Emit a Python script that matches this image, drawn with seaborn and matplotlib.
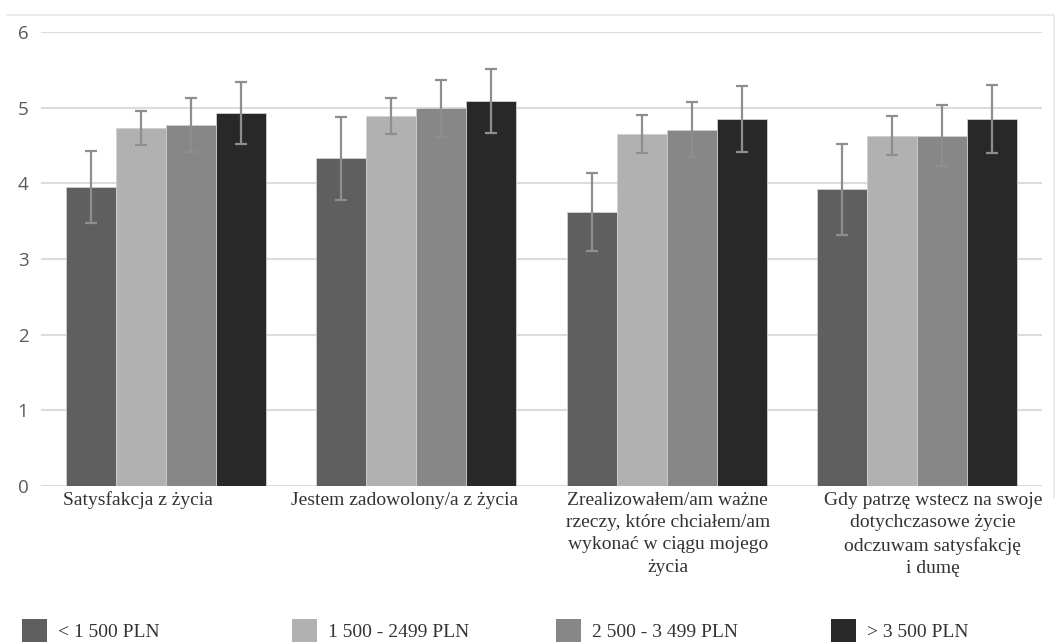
import numpy as np
import pandas as pd
import matplotlib
matplotlib.use("Agg")
import matplotlib.pyplot as plt
from matplotlib.patches import Patch
from matplotlib.lines import Line2D
from matplotlib.transforms import ScaledTranslation
import seaborn as sns

# Survey statements (x categories)
statements = [
    "Satysfakcja z życia",
    "Jestem zadowolony/a z życia",
    "Zrealizowałem/am ważne\nrzeczy, które chciałem/am\nwykonać w ciągu mojego\nżycia",
    "Gdy patrzę wstecz na swoje\ndotychczasowe życie\nodczuwam satysfakcję\ni dumę",
]

# Income groups (hue)
income_groups = ["< 1 500 PLN", "1 500 - 2499 PLN", "2 500 - 3 499 PLN", "> 3 500 PLN"]

# Mean scores per income group, one value per statement
mean_lt1500 = [3.95, 4.33, 3.62, 3.92]
mean_1500_2499 = [4.73, 4.89, 4.65, 4.63]
mean_2500_3499 = [4.77, 4.99, 4.71, 4.63]
mean_gt3500 = [4.93, 5.09, 4.85, 4.85]

# Error bar half-widths per income group
err_lt1500 = [0.48, 0.55, 0.51, 0.60]
err_1500_2499 = [0.22, 0.24, 0.25, 0.26]
err_2500_3499 = [0.36, 0.38, 0.36, 0.40]
err_gt3500 = [0.41, 0.42, 0.43, 0.45]

y_ticks = [0, 1, 2, 3, 4, 5, 6]

means = [mean_lt1500, mean_1500_2499, mean_2500_3499, mean_gt3500]
errs = [err_lt1500, err_1500_2499, err_2500_3499, err_gt3500]

rows = []
for g, m_list, e_list in zip(income_groups, means, errs):
    for s, m, e in zip(statements, m_list, e_list):
        rows.append({"statement": s, "income": g, "mean": m, "err": e})
df = pd.DataFrame(rows)

palette = {
    income_groups[0]: "#5f5f5f",
    income_groups[1]: "#b1b1b1",
    income_groups[2]: "#878787",
    income_groups[3]: "#282828",
}

sns.set_theme(style="white")
plt.rcParams["font.family"] = ["DejaVu Sans"]

W, H = 1062, 642
fig = plt.figure(figsize=(W / 100, H / 100), dpi=100)
ax = fig.add_axes([41 / W, 1 - 486 / H, 1001 / W, 454 / H])

sns.barplot(
    data=df, x="statement", y="mean", hue="income",
    order=statements, hue_order=income_groups, palette=palette,
    errorbar=None, width=0.8, saturation=1, ax=ax,
    edgecolor="#d0d0d0", linewidth=0.6, legend=False, zorder=2,
)

# Error bars at the centres of the drawn bars
for container, e_list, m_list in zip(ax.containers, errs, means):
    xs = [bar.get_x() + bar.get_width() / 2 for bar in container]
    ax.errorbar(xs, m_list, yerr=e_list, fmt="none", ecolor="#8e8e8e",
                elinewidth=1.6, capsize=4, capthick=1.6, zorder=3)

ax.set_ylim(0, 6)
ax.set_yticks(y_ticks)
ax.set_yticklabels([str(t) for t in y_ticks], fontfamily="Open Sans",
                   fontsize=13.5, color="#5a5a5a")
ax.tick_params(axis="y", length=0, pad=9)
ax.tick_params(axis="x", length=0, pad=4)
ax.yaxis.grid(True, color="#dcdcdc", linewidth=1.5, zorder=0)
ax.set_axisbelow(True)
for sp in ax.spines.values():
    sp.set_visible(False)
ax.set_xlabel("")
ax.set_ylabel("")
ax.set_xlim(-0.5, 3.5)

ax.set_xticks(range(len(statements)))
ax.set_xticklabels(statements, fontfamily="Liberation Serif", fontsize=14,
                   color="#333333", linespacing=1.42, ha="center", va="top")
shifts_px = [-28, -12, 1, 16]
for lbl, dx in zip(ax.get_xticklabels(), shifts_px):
    lbl.set_transform(lbl.get_transform() + ScaledTranslation(dx / 100, 0, fig.dpi_scale_trans))

# Light chart-area border (top and right edges)
fig.add_artist(Line2D([7 / W, 1054 / W], [1 - 15 / H, 1 - 15 / H],
                      transform=fig.transFigure, color="#e8e8e8", linewidth=1.2))
fig.add_artist(Line2D([1054 / W, 1054 / W], [1 - 15 / H, 1 - 498 / H],
                      transform=fig.transFigure, color="#e8e8e8", linewidth=1.2))

# Legend entries laid out along the bottom
legend_x = [19, 289, 553, 828]
for g, x in zip(income_groups, legend_x):
    handle = Patch(facecolor=palette[g], edgecolor="none", label=g)
    leg = fig.legend(handles=[handle], loc="lower left",
                     bbox_to_anchor=(x / W, 1 - 645 / H), frameon=False,
                     prop={"family": "Liberation Serif", "size": 14},
                     handlelength=1.3, handleheight=1.45, handletextpad=0.55,
                     borderaxespad=0.0, borderpad=0.15)
    for t in leg.get_texts():
        t.set_color("#333333")

fig.savefig("out.png", dpi=100, facecolor="white")
